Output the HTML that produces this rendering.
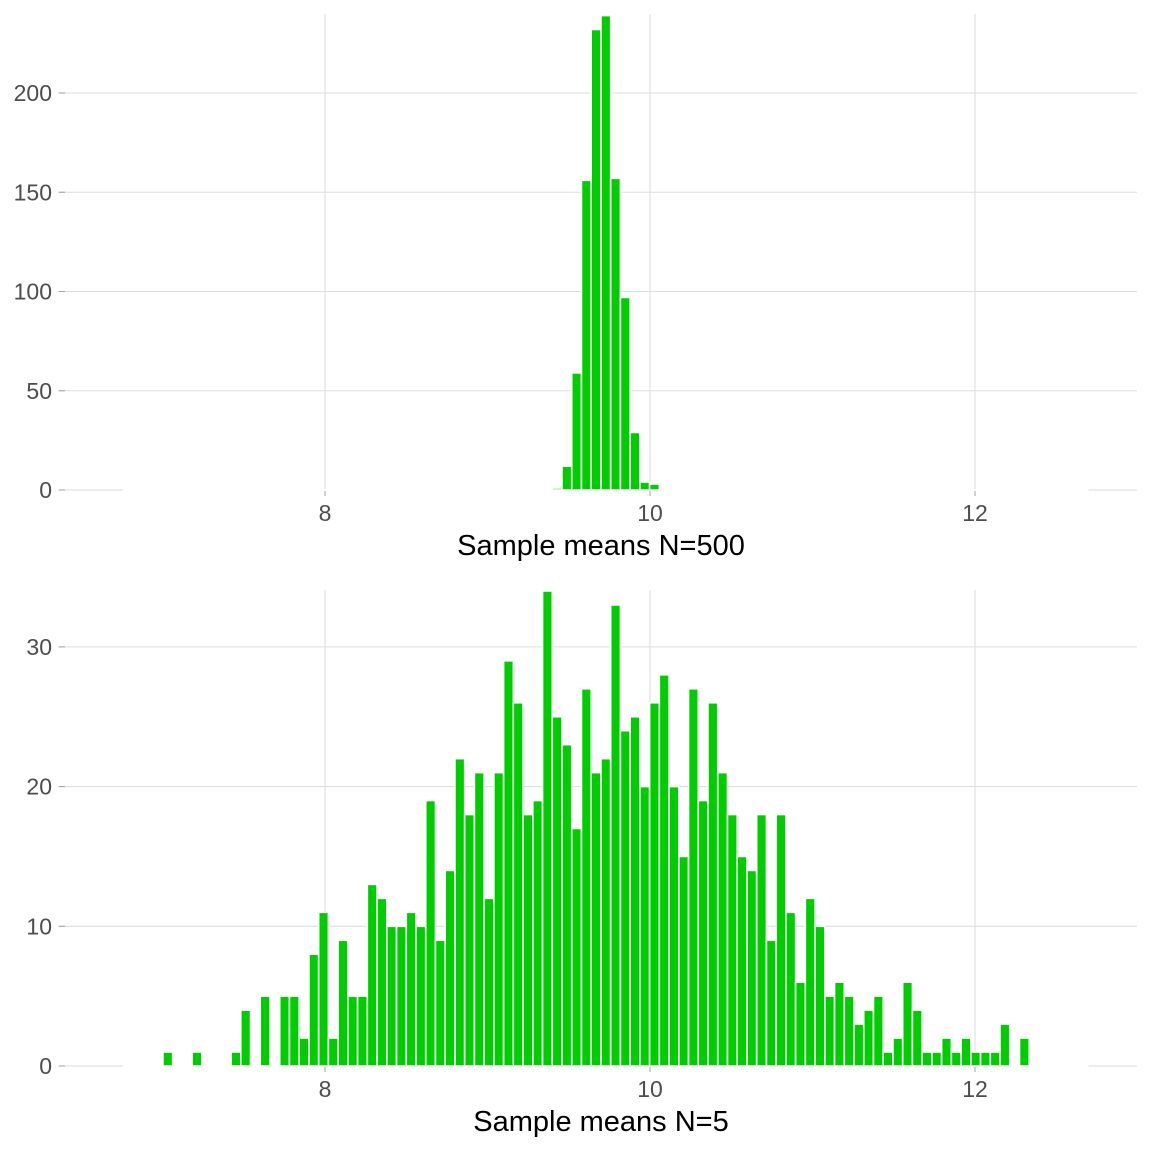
<!DOCTYPE html>
<html><head><meta charset="utf-8">
<style>
html,body{margin:0;padding:0;background:#fff;}
svg{display:block;font-family:"Liberation Sans",Arial,sans-serif;}
</style></head>
<body>
<svg id="chart" width="1152" height="1152" viewBox="0 0 1152 1152" xmlns="http://www.w3.org/2000/svg"></svg>
<script>
// Shared bins
const binStart = 6.763;
const binWidth = 0.0599;
const xTicks = [8, 10, 12];
// Top panel: N=500 counts (bin index -> count)
const topBinIndex = [44, 45, 46, 47, 48, 49, 50, 51, 52, 53, 54];
const topCounts   = [1, 12, 59, 156, 232, 239, 157, 97, 29, 4, 3];
const topYTicks = [0, 50, 100, 150, 200];
// Bottom panel: N=5 counts
const botBinIndex = [4,7,11,12,14,16,17,18,19,20,21,22,23,24,25,26,27,28,29,30,31,32,33,34,35,36,37,38,39,40,41,42,43,44,45,46,47,48,49,50,51,52,53,54,55,56,57,58,59,60,61,62,63,64,65,66,67,68,69,70,71,72,73,74,75,76,77,78,79,80,81,82,83,84,85,86,87,88,89,90,92];
const botCounts   = [1,1,1,4,5,5,5,2,8,11,2,9,5,5,13,12,10,10,11,10,19,9,14,22,18,21,12,21,29,26,18,19,34,25,23,17,27,21,22,33,24,25,20,26,28,20,15,27,19,26,21,18,15,14,18,9,18,11,6,12,10,5,6,5,3,4,5,1,2,6,4,1,1,2,1,2,1,1,1,3,2];
const botYTicks = [0, 10, 20, 30];

const NS = "http://www.w3.org/2000/svg";
const svg = document.getElementById('chart');
function mk(tag, attrs, parent){const e=document.createElementNS(NS,tag);for(const k in attrs)e.setAttribute(k,attrs[k]);(parent||svg).appendChild(e);return e;}
const xScale = v => 325 + (v - 8) * 162.5;

function panel(name, top, bottom, yMax, yTicks, binIdx, counts, title){
  const g = mk('g', {});
  
  
  const yScale = v => bottom - v / yMax * (bottom - top);
  yTicks.forEach(t => {
    const l = mk('line', {x1:58, x2:1137, y1:yScale(t), y2:yScale(t), stroke:'#dedede', 'stroke-width':1.1}, g);
    
    
    mk('line', {x1:59, x2:65, y1:yScale(t), y2:yScale(t), stroke:'#a8a8a8', 'stroke-width':1.1}, g);
    const tx = mk('text', {x:52, y:yScale(t)+8, 'text-anchor':'end', 'font-size':23, fill:'#4d4d4d'}, g);
    tx.textContent = t;
    
    
  });
  xTicks.forEach(t => {
    const l = mk('line', {x1:xScale(t), x2:xScale(t), y1:top, y2:bottom, stroke:'#dedede', 'stroke-width':1.1}, g);
    
    
    mk('line', {x1:xScale(t), x2:xScale(t), y1:bottom, y2:bottom+6, stroke:'#a8a8a8', 'stroke-width':1.1}, g);
    const tx = mk('text', {x:xScale(t), y:bottom+31, 'text-anchor':'middle', 'font-size':23, fill:'#4d4d4d'}, g);
    tx.textContent = t;
    
    
  });
  const nb = 99;
  mk('rect', {x:xScale(binStart)-1, y:bottom-1, width:xScale(binStart+nb*binWidth)-xScale(binStart)+2, height:2, fill:'#fff'}, g);
  binIdx.forEach((bi, i) => {
    const x0 = xScale(binStart + bi * binWidth), x1 = xScale(binStart + (bi+1) * binWidth);
    const y = yScale(counts[i]);
    const r = mk('rect', {x:x0, y:y, width:x1-x0, height:bottom-y, fill:'#00cd00', stroke:'#ffffff', 'stroke-width':1.6}, g);
    
    
  });
  const tt = mk('text', {x:601, y:bottom+65, 'text-anchor':'middle', 'font-size':29, fill:'#000'}, g);
  tt.textContent = title;
  
  
}
panel('top-histogram-panel', 14, 490, 239.8, topYTicks, topBinIndex, topCounts, 'Sample means N=500');
panel('bottom-histogram-panel', 590, 1066, 34.07, botYTicks, botBinIndex, botCounts, 'Sample means N=5');
</script>
</body></html>
